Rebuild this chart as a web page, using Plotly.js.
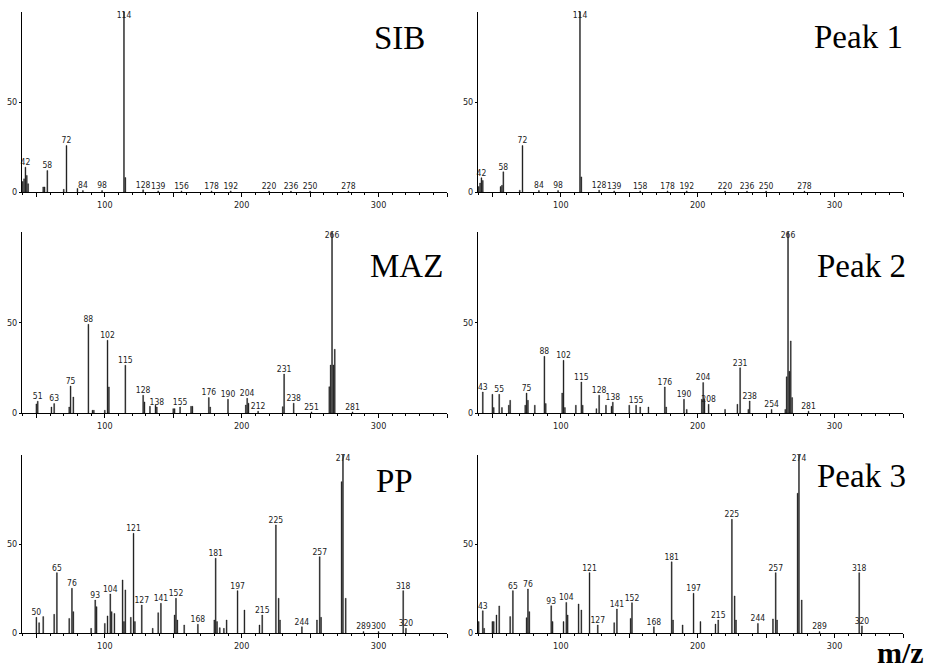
<!DOCTYPE html>
<html>
<head>
<meta charset="utf-8">
<script src="https://cdn.plot.ly/plotly-3.0.1.min.js"></script>
<style>html,body{margin:0;padding:0;background:#fff;}#chart{width:927px;height:671px;}</style>
</head>
<body>
<div id="chart"></div>
<script>
// ---- Data: m/z and relative intensity (%) per spectrum ----
const sibMz  = [40,41,42,43,44,55,56,58,70,72,80,84,98,114,115,128,139,156,178,192,220,236,250,278];
const sibInt = [5.8,7.3,13.8,9.2,4.6,2.8,2.8,11.9,1.5,25.8,2,0.8,0.8,100,8,1.2,0.6,0.6,0.6,0.6,0.5,0.5,0.5,0.5];
const sibLabels = [42,58,72,84,98,114,128,139,156,178,192,220,236,250,278];

const p1Mz  = [40,41,42,43,56,57,58,70,72,84,98,114,115,128,139,158,178,192,220,236,250,278];
const p1Int = [3,5,7.9,6.4,3,3.7,11.2,1,25.8,0.8,0.8,100,8.4,1,0.6,0.6,0.6,0.6,0.5,0.5,0.5,0.5];
const p1Labels = [42,58,72,84,98,114,128,139,158,178,192,220,236,250,278];

const mazMz  = [50,51,61,63,74,75,77,88,91,92,100,102,103,115,128,129,133,137,138,150,151,155,163,164,176,177,190,203,204,205,212,230,231,238,251,264,265,266,267,268,281];
const mazInt = [5,6.5,3.3,5.2,3.3,14.9,8.8,49,1.5,1.5,1.5,40.2,14.4,26.4,9.8,6.1,3.7,4.3,3.3,2.4,2.4,3.3,3.7,3.7,8.5,3.3,7.6,4.4,8.1,5.4,1,3.5,21.5,5.4,0.6,14.5,26.5,100,26.5,35.2,0.6];
const mazLabels = [51,63,75,88,102,115,128,138,155,176,190,204,212,231,238,251,266,281];

const p2Mz  = [43,50,51,55,57,62,63,74,75,76,81,88,89,101,102,103,111,115,116,126,128,133,137,138,150,155,158,164,176,177,190,192,203,204,205,208,220,229,231,237,238,254,264,265,266,267,268,269,281];
const p2Int = [11.6,10.3,3,10.3,3,4.3,7,4.3,11,7,4.3,31.3,5.2,11,29.1,3,4.3,17.1,4.3,2.4,9.8,4.3,3.7,6,4.3,4.3,3.3,3.3,14.4,3.3,7.6,2,7.6,16.8,7.6,4.8,2,4.8,25,2,6.6,2,2,20,100,23,39.8,8.5,1];
const p2Labels = [43,55,75,88,102,115,128,138,155,176,190,204,208,231,238,254,266,281];

const ppMz  = [50,52,55,63,65,74,76,77,90,93,94,100,102,104,105,107,113,114,115,119,121,122,127,135,139,141,151,152,153,158,168,180,181,182,184,187,189,197,202,213,215,225,227,228,244,255,257,258,273,274,276,289,300,318,320];
const ppInt = [8.8,5.8,9.2,10.5,33.9,8.2,25.1,12,2.6,18.5,14.8,5.4,9.6,21.9,12,11,29.8,6.4,24.2,8.8,56,6.4,15.7,2.6,11.4,16.7,10.1,19.5,7.3,4.5,4.9,7.3,42,6.4,3,2.6,7.3,23.8,12.9,4.5,10.1,60.7,19.5,7.3,3.5,7.3,42.9,8.8,85,100,19.5,0.8,0.8,23.8,2.6];
const ppLabels = [50,65,76,93,104,121,127,141,152,168,181,197,215,225,244,257,274,289,300,318,320];

const p3Mz  = [40,43,44,50,51,53,55,63,65,75,76,77,93,94,102,104,105,113,115,121,127,139,141,151,152,168,181,182,189,197,202,213,215,225,227,228,244,255,257,258,273,274,276,289,318,320];
const p3Int = [6.4,12.5,2.6,6.4,6.4,10.1,15.2,9.2,23.8,8.6,24.7,12,15.3,6.4,6.4,17.2,10.1,16.3,12.9,33.9,4.5,5.8,13.5,8.2,17,3.5,40,7.3,4.5,22.3,6.4,5,7.3,63.9,20.8,7.3,5.4,7.9,33.9,7.3,78.5,100,18.5,0.8,33.9,4];
const p3Labels = [43,65,76,93,104,121,127,141,152,168,181,197,215,225,244,257,274,289,318,320];

const panelNames = ["SIB","Peak 1","MAZ","Peak 2","PP","Peak 3"];
const xTickVals = [50,100,150,200,250,300,350];
const xTickText = ["","100","","200","","300",""];
const yTickVals = [0,50];

// ---- Build figure ----
const NARROW = "'Liberation Sans Narrow','DejaVu Sans Condensed','Arial Narrow',sans-serif";
const SERIF = "'Liberation Serif','Times New Roman',serif";

const spectra = [
  {mz: sibMz, it: sibInt, lab: sibLabels},
  {mz: p1Mz,  it: p1Int,  lab: p1Labels},
  {mz: mazMz, it: mazInt, lab: mazLabels},
  {mz: p2Mz,  it: p2Int,  lab: p2Labels},
  {mz: ppMz,  it: ppInt,  lab: ppLabels},
  {mz: p3Mz,  it: p3Int,  lab: p3Labels}
];

const W = 927, H = 671;
const colDom = [[22/W, 447/W], [478/W, 903/W]];
const rowDom = [[1-192/H, 1-12/H], [1-413/H, 1-232/H], [1-633/H, 1-455/H]];
const titlePos = [
  {x: 427/W, y: 1-38/H}, {x: 905/W, y: 1-37/H},
  {x: 445/W, y: 1-266/H}, {x: 908/W, y: 1-266/H},
  {x: 415/W, y: 1-481/H}, {x: 908/W, y: 1-476/H}
];

const data = [];
const layout = {
  width: W, height: H,
  margin: {l:0, r:0, t:0, b:0},
  paper_bgcolor: '#fff', plot_bgcolor: '#fff',
  showlegend: false,
  annotations: []
};

spectra.forEach((s, i) => {
  const n = i + 1;
  const xa = n === 1 ? 'x' : 'x' + n;
  const ya = n === 1 ? 'y' : 'y' + n;
  data.push({
    type: 'bar', x: s.mz, y: s.it, xaxis: xa, yaxis: ya,
    width: 0.65,
    marker: {color: '#151515', line: {color: '#151515', width: 0.4}},
    hoverinfo: 'x+y'
  });
  const ly = s.lab.map(m => { const k = s.mz.indexOf(m); return k >= 0 ? s.it[k] : 0; });
  data.push({
    type: 'scatter', mode: 'text', x: s.lab, y: ly, xaxis: xa, yaxis: ya,
    text: s.lab.map(String),
    textposition: ly.map(v => v >= 95 ? 'bottom center' : 'top center'),
    textfont: {family: NARROW, size: 8.5, color: '#222'},
    cliponaxis: false, hoverinfo: 'skip'
  });
  const row = Math.floor(i / 2), col = i % 2;
  const xKey = n === 1 ? 'xaxis' : 'xaxis' + n;
  const yKey = n === 1 ? 'yaxis' : 'yaxis' + n;
  layout[xKey] = {
    domain: colDom[col], anchor: ya, range: [39.5, 350],
    showline: true, linecolor: '#000', linewidth: 1,
    showgrid: false, zeroline: false,
    tickmode: 'array', tickvals: xTickVals, ticktext: xTickText,
    ticks: 'outside', ticklen: 4, tickwidth: 1, tickcolor: '#000',
    minor: {tickmode: 'linear', tick0: 0, dtick: 10, ticks: 'outside', ticklen: 2, tickcolor: '#000', showgrid: false},
    tickfont: {family: NARROW, size: 9, color: '#222'},
    fixedrange: true
  };
  layout[yKey] = {
    domain: rowDom[row], anchor: xa, range: [0, 100],
    showline: true, linecolor: '#000', linewidth: 1,
    showgrid: false, zeroline: false,
    tickmode: 'array', tickvals: yTickVals,
    ticks: 'outside', ticklen: 2, tickwidth: 1, tickcolor: '#000',
    tickfont: {family: NARROW, size: 9, color: '#222'},
    fixedrange: true
  };
  layout.annotations.push({
    xref: 'paper', yref: 'paper', x: titlePos[i].x, y: titlePos[i].y,
    xanchor: 'right', yanchor: 'middle', showarrow: false,
    text: panelNames[i],
    font: {family: SERIF, size: 33, color: '#000'}
  });
});

layout.annotations.push({
  xref: 'paper', yref: 'paper', x: 925/W, y: 1/H,
  xanchor: 'right', yanchor: 'bottom', showarrow: false,
  text: '<b>m/z</b>', borderpad: 0,
  font: {family: SERIF, size: 30, color: '#000'}
});

Plotly.newPlot('chart', data, layout, {displayModeBar: false, staticPlot: true});
</script>
</body>
</html>
